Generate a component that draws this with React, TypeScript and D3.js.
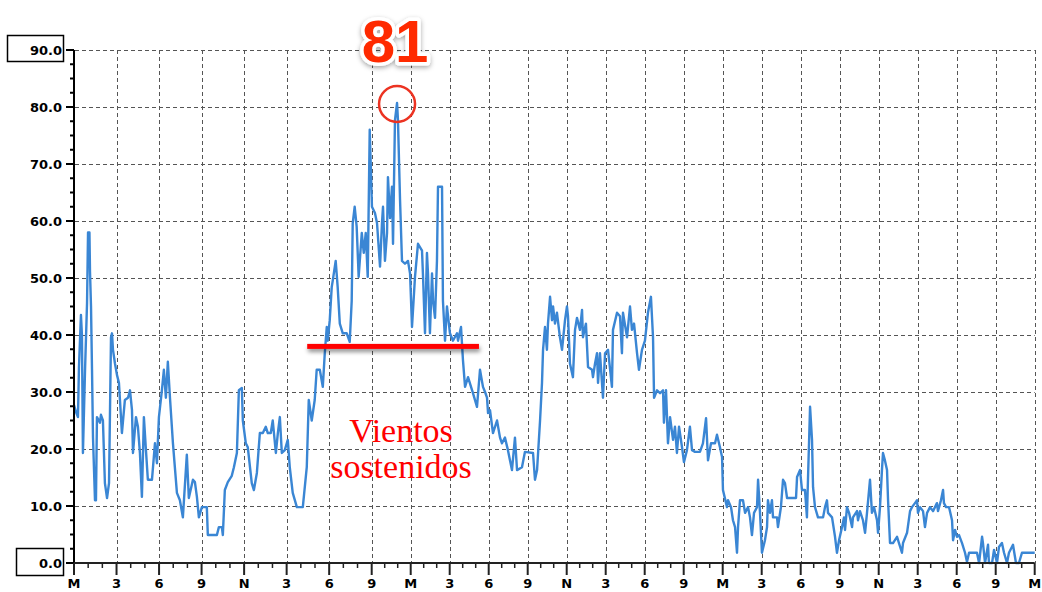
import * as d3 from 'd3';

// wind speed trace, [hour since start, value], one array per day
const day1: [number, number][] = [
  [0, 27.7], [0.14, 26.5], [0.28, 25.6], [0.35, 34.4], [0.49, 43.5], [0.56, 40], [0.63, 19.3],
  [0.78, 34], [0.92, 45.6], [0.99, 58], [1.09, 58], [1.13, 51], [1.2, 45], [1.27, 34], [1.34, 22],
  [1.48, 11], [1.55, 11], [1.62, 25.6], [1.83, 24.6], [1.9, 26], [2.04, 25], [2.18, 14], [2.33, 11.4],
  [2.47, 14], [2.61, 39.6], [2.68, 40.3], [2.75, 37.4], [2.89, 35], [3.03, 33], [3.17, 31.6],
  [3.38, 22.8], [3.59, 28.6], [3.81, 29], [3.95, 30.3], [4.09, 26.8], [4.16, 19.3], [4.37, 25.6],
  [4.51, 23.9], [4.65, 19.3], [4.79, 11.6], [4.93, 25.6], [5.07, 20], [5.21, 14.6], [5.5, 14.6],
  [5.71, 21], [5.85, 17.5], [5.99, 25.6], [6.2, 30.3], [6.34, 33.9], [6.48, 29], [6.62, 35.3],
  [6.77, 29], [6.98, 21], [7.26, 12.3], [7.47, 11], [7.68, 8], [7.96, 19], [8.1, 11.4], [8.39, 14.6],
  [8.53, 14.2], [8.67, 11.6], [8.81, 8], [9.02, 9.8], [9.37, 9.8], [9.44, 4.9], [10.08, 4.9],
  [10.22, 6.3], [10.43, 6.3], [10.5, 4.9], [10.64, 12.8], [10.85, 14.2], [11.13, 15.3], [11.28, 16.8],
  [11.49, 19.3], [11.63, 30.3], [11.84, 30.7], [11.91, 25], [12.12, 21], [12.26, 20.3], [12.54, 14],
  [12.69, 12.8], [12.9, 15.8], [13.11, 22.8], [13.32, 22.8], [13.53, 23.9], [13.67, 22.8],
  [13.88, 22.8], [14.02, 25], [14.24, 19.3], [14.38, 22.8], [14.52, 25.6], [14.66, 19.3],
  [14.87, 19.8], [15.08, 21.6], [15.22, 16.8], [15.43, 12.3], [15.72, 9.8], [16.14, 9.8],
  [16.42, 16.8], [16.56, 28.6], [16.77, 25], [16.98, 28.6], [17.12, 33.9], [17.34, 33.9],
  [17.55, 30.9], [17.69, 36.8], [17.83, 41.4], [17.9, 39], [18.04, 42.6], [18.18, 48.4],
  [18.25, 49.5], [18.46, 53], [18.6, 48.4], [18.75, 42], [18.96, 40.3], [19.24, 40.3], [19.45, 38.8],
  [19.59, 46], [19.66, 59.6], [19.8, 62.5], [19.94, 59], [20.08, 50.2], [20.3, 57.9], [20.44, 54.4],
  [20.58, 57.9], [20.72, 50.2], [20.86, 76], [21.02, 62.5], [21.25, 61.4], [21.41, 59.6],
  [21.64, 52], [21.79, 59.6], [21.87, 62.5], [22.02, 53], [22.18, 57.9], [22.25, 67.7], [22.41, 60.5],
  [22.56, 66], [22.64, 56], [22.79, 77.7], [22.95, 80.7], [23.02, 77.7], [23.18, 63.7], [23.33, 53],
  [23.56, 52.5], [23.79, 53], [23.95, 50.8],
];

const day2: [number, number][] = [
  [24.1, 41.4], [24.33, 50.2], [24.56, 56], [24.87, 54.8], [24.95, 50.2], [25.1, 40.3], [25.25, 54.4],
  [25.33, 50.8], [25.48, 40.3], [25.64, 50.8], [25.72, 46], [25.87, 43], [26.02, 53], [26.1, 66],
  [26.41, 66], [26.48, 46], [26.64, 39], [26.79, 45], [27.02, 40.3], [27.25, 39], [27.56, 40.3],
  [27.64, 39], [27.87, 41.4], [28.02, 35.6], [28.18, 30.9], [28.41, 32.6], [28.79, 29.8],
  [29.1, 27.4], [29.33, 33.9], [29.56, 30.9], [29.72, 30], [29.87, 29], [29.95, 26.3], [30.1, 26.8],
  [30.33, 22.8], [30.64, 25], [30.87, 22], [31.02, 21], [31.25, 22], [31.48, 19.8], [31.79, 16.3],
  [32.02, 22], [32.18, 16.3], [32.56, 16.8], [32.79, 19.5], [33.41, 19.3], [33.56, 14.6],
  [33.72, 16.3], [33.95, 25], [34.1, 31.6], [34.18, 37.4], [34.33, 41.4], [34.48, 37.4], [34.56, 42],
  [34.72, 46.7], [34.87, 42.6], [34.95, 45], [35.1, 42], [35.25, 43.9], [35.48, 39.6], [35.64, 37.4],
  [35.87, 42.6], [36.02, 45], [36.1, 43.3], [36.25, 35], [36.48, 32.6], [36.64, 40.9], [36.79, 43],
  [37.02, 40.9], [37.18, 44.4], [37.25, 39.6], [37.48, 42], [37.64, 34.4], [37.95, 33.9],
  [38.02, 32.6], [38.18, 35], [38.33, 36.8], [38.41, 31.6], [38.56, 36.8], [38.79, 29], [38.95, 36.8],
  [39.18, 37.4], [39.48, 30.9], [39.56, 40.9], [39.87, 43.9], [40.1, 43.3], [40.25, 36.8],
  [40.33, 43.9], [40.64, 39.6], [40.87, 45], [41.02, 40.9], [41.18, 42], [41.41, 36.8], [41.56, 33.9],
  [41.79, 37.4], [42.02, 39], [42.25, 43.9], [42.48, 46.7], [42.64, 39.6], [42.72, 29], [42.95, 30.3],
  [43.18, 29.8], [43.41, 30.3], [43.48, 24.6], [43.64, 30.3], [43.79, 21], [43.95, 25.6],
  [44.18, 21.6], [44.33, 23.9], [44.48, 19.3], [44.64, 23.9], [44.87, 20.3], [45.02, 17.7],
  [45.25, 19.8], [45.48, 23.9], [45.64, 19.8], [45.87, 19.5], [46.25, 19.5], [46.48, 21],
  [46.72, 25.4], [46.87, 18], [47.1, 21], [47.41, 21], [47.56, 22.5], [47.79, 20.3], [47.95, 18.6],
];

const day3: [number, number][] = [
  [48.02, 12.8], [48.33, 9.8], [48.41, 11], [48.64, 9.8], [48.79, 7.5], [48.95, 6.3], [49.1, 1.8],
  [49.18, 6.3], [49.33, 11], [49.56, 11], [49.72, 8.8], [49.95, 9.8], [50.1, 8], [50.25, 4.9],
  [50.41, 8.8], [50.64, 9.8], [50.72, 14.6], [50.87, 8.8], [51.02, 1.8], [51.25, 4], [51.41, 6.3],
  [51.48, 11], [51.64, 8.8], [51.79, 11], [51.87, 8], [52.18, 8], [52.25, 6.3], [52.48, 9.8],
  [52.64, 14.6], [52.79, 14], [52.95, 11.4], [53.64, 11.4], [53.72, 15.1], [53.95, 16.3],
  [54.1, 12.8], [54.33, 12.8], [54.48, 8], [54.56, 14.6], [54.72, 27.4], [54.87, 21.6], [54.95, 13.3],
  [55.1, 9.8], [55.33, 8], [55.72, 8], [55.87, 9.8], [56.02, 11], [56.1, 8.8], [56.41, 8], [56.64, 4.6],
  [56.79, 1.8], [56.95, 4], [57.18, 6.3], [57.33, 8], [57.41, 5.8], [57.56, 9.8], [57.72, 8.8],
  [57.95, 6.3], [58.02, 8], [58.33, 9.1], [58.41, 7.5], [58.56, 9.1], [58.79, 7.5], [58.95, 5.3],
  [59.1, 8.8], [59.33, 14.6], [59.48, 8.8], [59.64, 9.8], [59.87, 7.5], [59.95, 5.3], [60.1, 9.8],
  [60.25, 16.3], [60.33, 19.3], [60.48, 18], [60.64, 16.3], [60.72, 11], [60.87, 3.5], [61.1, 3.5],
  [61.41, 4.6], [61.56, 3.5], [61.79, 1.8], [61.87, 3.5], [62.18, 5.3], [62.41, 9.1], [62.56, 9.8],
  [62.79, 10.5], [62.95, 11], [63.02, 8.8], [63.18, 9.8], [63.41, 9.1], [63.56, 6.3], [63.72, 8.8],
  [63.95, 9.8], [64.18, 9.1], [64.48, 10.5], [64.56, 9.1], [64.79, 11], [64.95, 12.8], [65.02, 10.5],
  [65.18, 9.8], [65.41, 9.8], [65.64, 7.5], [65.72, 4], [65.87, 5.8], [66.02, 4.6], [66.18, 4.9],
  [66.41, 3.5], [66.64, 1.8], [66.79, 0.2], [66.95, 1.8], [67.56, 1.8], [67.72, 0], [67.95, 4.6],
  [68.02, 3.5], [68.18, 0], [68.41, 3.2], [68.48, 0], [68.72, 0], [68.87, 2.3], [69.1, 0],
  [69.25, 2.8], [69.48, 3.5], [69.64, 1.8], [69.87, 0], [70.02, 1.8], [70.33, 3.2], [70.56, 0],
  [70.79, 0], [71.02, 1.8], [72, 1.8],
];

const xTickLabels = [
  'M', '3', '6', '9', 'N', '3', '6', '9',
  'M', '3', '6', '9', 'N', '3', '6', '9',
  'M', '3', '6', '9', 'N', '3', '6', '9', 'M',
];
const yTicks = [0, 10, 20, 30, 40, 50, 60, 70, 80, 90];

const peakLabel = '81';
const peakPoint: [number, number] = [22.95, 80.7];
const sustainedLevel = 38;
const sustainedFrom = 16.45;
const sustainedTo = 29.25;
const noteLines = ['Vientos', 'sostenidos'];

const W = 1042;
const H = 592;

export default function App() {
  // the source chart is squeezed after 21h, so the time scale is piecewise
  const x = d3.scaleLinear().domain([0, 21, 72]).range([74, 371.7, 1034.7]);
  const y = d3.scaleLinear().domain([0, 90]).range([563, 50]);

  const data = [...day1, ...day2, ...day3];
  const line = d3.line<[number, number]>()
    .x(d => x(d[0]))
    .y(d => y(d[1]));

  const majorHours = d3.range(0, 73, 3);
  const minorHours = d3.range(0, 73, 1).filter(h => h % 3 !== 0);
  const minorY = d3.range(0, 90.1, 2.5).filter(v => v % 10 !== 0);
  const fmt = d3.format('.1f');
  const axisFont = '"DejaVu Sans", sans-serif';
  const noteX = 401;

  return (
    <svg width={W} height={H} style={{ position: 'absolute', left: 0, top: 0, background: '#fff' }}>
      <defs>
        <filter id="shadow" x="-20%" y="-200%" width="140%" height="600%">
          <feDropShadow dx="1" dy="3" stdDeviation="2" floodColor="#000" floodOpacity="0.45" />
        </filter>
        <filter id="halo" x="-30%" y="-30%" width="160%" height="160%">
          <feDropShadow dx="0" dy="2" stdDeviation="2.5" floodColor="#000" floodOpacity="0.35" />
        </filter>
      </defs>

      {/* grid */}
      <g stroke="#555" strokeWidth={1} strokeDasharray="4,3" fill="none">
        {yTicks.filter(v => v > 0).map(v => (
          <line key={'gy' + v} x1={x(0) + 1} x2={x(72)} y1={y(v) + 0.5} y2={y(v) + 0.5} />
        ))}
        {majorHours.filter(h => h > 0).map(h => (
          <line key={'gx' + h} x1={Math.round(x(h)) + 0.5} x2={Math.round(x(h)) + 0.5} y1={y(90)} y2={y(0)} />
        ))}
      </g>

      {/* series */}
      <path d={line(data) ?? ''} fill="none" stroke="#3a86d4" strokeWidth={2.4} strokeLinejoin="round" />

      {/* y axis */}
      <g stroke="#000">
        <line x1={x(0)} x2={x(0)} y1={y(90)} y2={y(0)} strokeWidth={2} />
        {yTicks.map(v => (
          <line key={'ty' + v} x1={x(0) - 8} x2={x(0)} y1={y(v)} y2={y(v)} strokeWidth={2} />
        ))}
        {minorY.map(v => (
          <line key={'my' + v} x1={x(0) - 4} x2={x(0)} y1={y(v)} y2={y(v)} strokeWidth={2} />
        ))}
      </g>
      <rect x={7.5} y={35.5} width={56} height={26} fill="#fff" stroke="#000" strokeWidth={1.5} />
      <rect x={16.5} y={548.5} width={47} height={27} fill="#fff" stroke="#000" strokeWidth={1.5} />
      <g fontFamily={axisFont} fontWeight="bold" fontSize={13} textAnchor="end" fill="#000">
        {yTicks.map(v => (
          <text key={'ly' + v} x={62} y={y(v) + 5}>{fmt(v)}</text>
        ))}
      </g>

      {/* x axis */}
      <g stroke="#222">
        <line x1={x(0)} x2={x(72)} y1={y(0)} y2={y(0)} strokeWidth={2} />
        {majorHours.map(h => (
          <line key={'tx' + h} x1={x(h)} x2={x(h)} y1={y(0)} y2={y(0) + 12} strokeWidth={2} />
        ))}
        {minorHours.map(h => (
          <line key={'mx' + h} x1={x(h)} x2={x(h)} y1={y(0)} y2={y(0) + 5} strokeWidth={1.5} />
        ))}
      </g>
      <g fontFamily={axisFont} fontWeight="bold" fontSize={13} textAnchor="middle" fill="#000">
        {majorHours.map((h, i) => (
          <text key={'lx' + h} x={x(h)} y={588}>{xTickLabels[i]}</text>
        ))}
      </g>

      {/* annotations */}
      <rect
        x={x(sustainedFrom)} width={x(sustainedTo) - x(sustainedFrom)}
        y={y(sustainedLevel) - 2.5} height={5}
        fill="#ff0000" filter="url(#shadow)"
      />
      <circle cx={x(peakPoint[0])} cy={y(peakPoint[1]) + 1} r={18} fill="none" stroke="#ec3322" strokeWidth={2.5} />
      <text
        x={x(peakPoint[0]) - 2} y={62}
        textAnchor="middle" fontFamily='"Liberation Sans", Arial, sans-serif' fontWeight="bold" fontSize={60}
        fill="#ff2a00" stroke="#fff" strokeWidth={7} strokeLinejoin="round" paintOrder="stroke"
        filter="url(#halo)"
      >{peakLabel}</text>
      <g fontFamily='"Liberation Serif", "Times New Roman", serif' fontSize={34} fill="#ff0000" textAnchor="middle">
        {noteLines.map((t, i) => (
          <text key={t} x={noteX} y={442 + i * 36}>{t}</text>
        ))}
      </g>
    </svg>
  );
}
